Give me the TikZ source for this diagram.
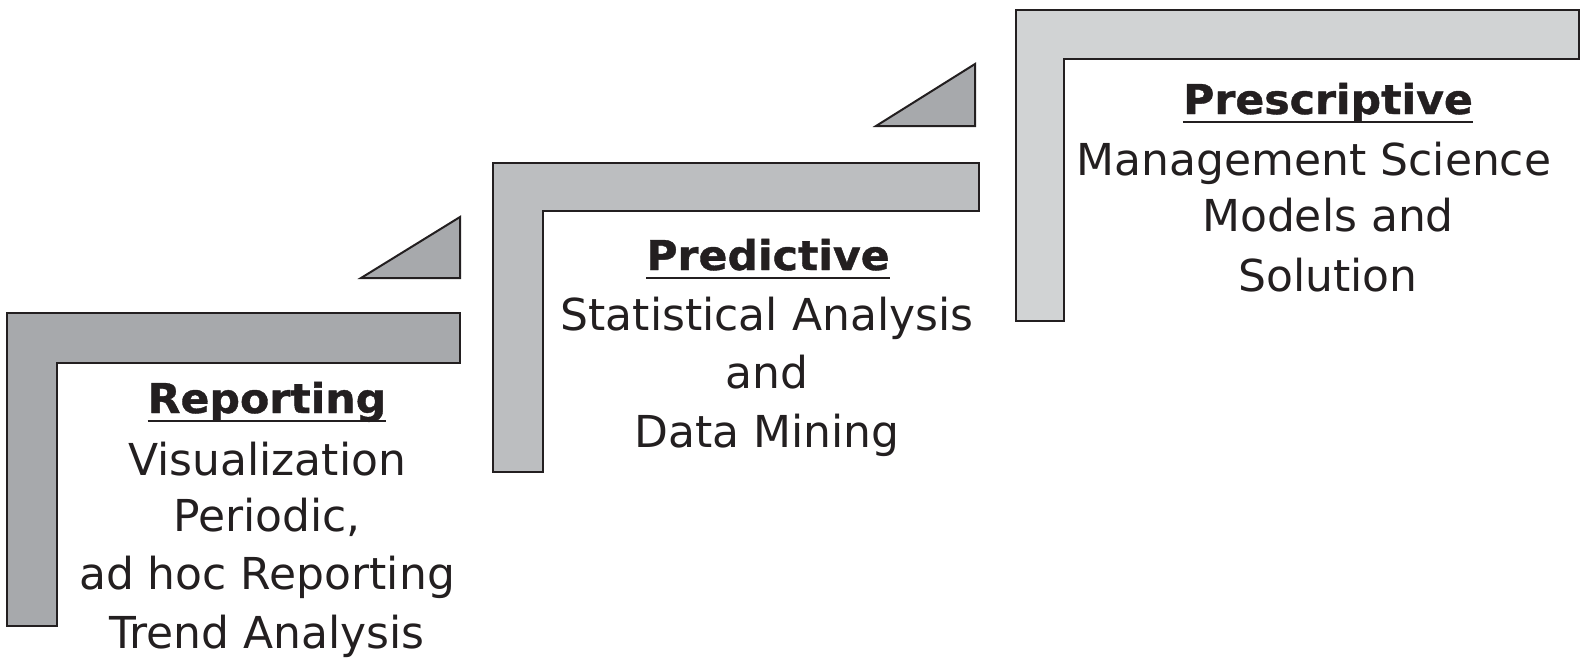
\documentclass[tikz,border=0pt]{standalone}
\usepackage{fontspec}
\setmainfont{DejaVu Sans}
\newfontfamily\headfont[FakeStretch=1.04,FakeBold=1]{DejaVu Sans Bold}
\definecolor{stepdark}{HTML}{A7A9AC}
\definecolor{stepmid}{HTML}{BCBEC0}
\definecolor{steplight}{HTML}{D1D3D4}
\definecolor{edge}{HTML}{231F20}
\begin{document}
\begin{tikzpicture}[x=1pt,y=-1pt,
  stair/.style={draw=edge,line width=2pt,line join=miter},
  wedge/.style={draw=edge,line width=2pt,fill=stepdark,line join=miter},
  heading/.style={anchor=base,inner sep=0pt,text=edge,font=\headfont\fontsize{41}{48}\selectfont},
  body/.style={anchor=base,inner sep=0pt,text=edge,font=\fontsize{44}{52}\selectfont},
  rule/.style={draw=edge,line width=2.5pt}]
\useasboundingbox (0,0) rectangle (1582,659);

% three L-shaped steps
\draw[stair,fill=stepdark] (7,313) -- (460,313) -- (460,363) -- (57,363) -- (57,626) -- (7,626) -- cycle;
\draw[stair,fill=stepmid] (493,163) -- (979,163) -- (979,211) -- (543,211) -- (543,472) -- (493,472) -- cycle;
\draw[stair,fill=steplight] (1016,10) -- (1579,10) -- (1579,59) -- (1064,59) -- (1064,321) -- (1016,321) -- cycle;

% wedges between the steps
\draw[wedge] (361,278) -- (460,217) -- (460,278) -- cycle;
\draw[wedge] (876,126) -- (975,64) -- (975,126) -- cycle;

% Reporting
\node[heading] (rep) at (267,413) {Reporting};
\draw[rule] ([yshift=-8pt]rep.base west) -- ([yshift=-8pt]rep.base east);
\node[body] (rep1) at (267,475) {Visualization};
\node[body] (rep2) at (267,531) {Periodic,};
\node[body] (rep3) at (267,589) {ad hoc Reporting};
\node[body] (rep4) at (267,648) {Trend Analysis};

% Predictive
\node[heading] (pred) at (768,270) {Predictive};
\draw[rule] ([yshift=-8pt]pred.base west) -- ([yshift=-8pt]pred.base east);
\node[body] (pred1) at (767,330) {Statistical Analysis};
\node[body] (pred2) at (767,388) {and};
\node[body] (pred3) at (767,447) {Data Mining};

% Prescriptive
\node[heading] (pres) at (1328,114) {Prescriptive};
\draw[rule] ([yshift=-8pt]pres.base west) -- ([yshift=-8pt]pres.base east);
\node[body] (pres1) at (1314,175) {Management Science};
\node[body] (pres2) at (1328,231) {Models and};
\node[body] (pres3) at (1328,291) {Solution};
\end{tikzpicture}
\end{document}
